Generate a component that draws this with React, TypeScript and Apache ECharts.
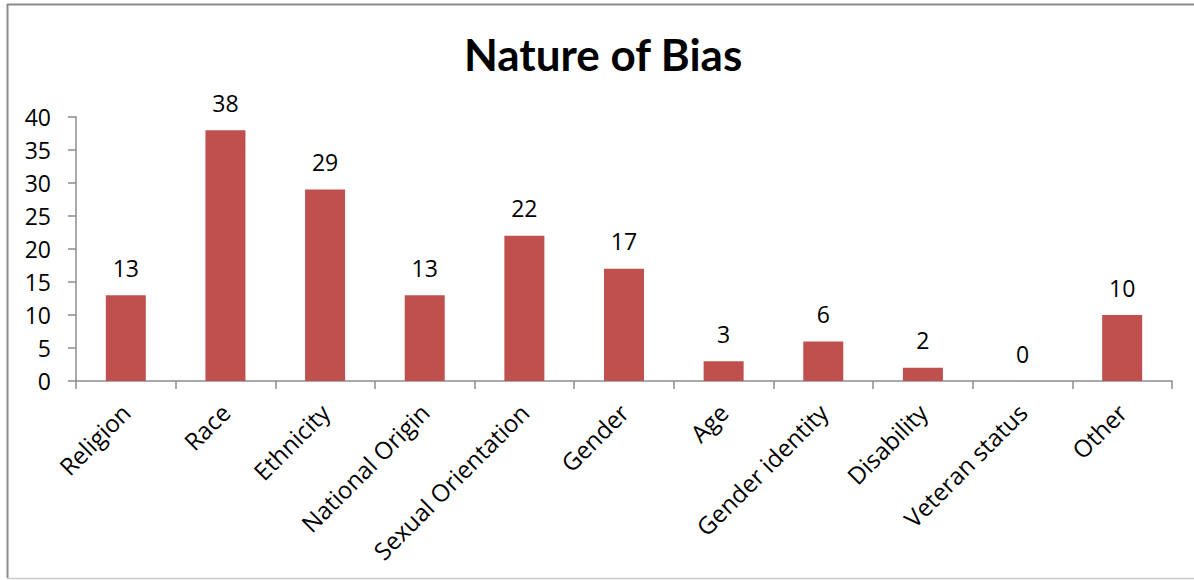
import React, { useEffect, useRef } from "react";
import * as echarts from "echarts";

const categories = [
  "Religion",
  "Race",
  "Ethnicity",
  "National Origin",
  "Sexual Orientation",
  "Gender",
  "Age",
  "Gender identity",
  "Disability",
  "Veteran status",
  "Other",
];
const values = [13, 38, 29, 13, 22, 17, 3, 6, 2, 0, 10];
const yTicks = { min: 0, max: 40, interval: 5 };
const titleText = "Nature of Bias";

export default function App() {
  const ref = useRef<HTMLDivElement>(null);
  useEffect(() => {
    if (!ref.current) return;
    const chart = echarts.init(ref.current, undefined, { renderer: "svg" });
    const font = "Open Sans";
    chart.setOption({
      animation: false,
      backgroundColor: "#ffffff",
      title: {
        text: titleText,
        left: 459,
        top: 27,
        textStyle: { fontFamily: "Lato", fontSize: 44, fontWeight: "bold", color: "#000" },
      },
      grid: { left: 76, top: 117, width: 1096, height: 264, containLabel: false },
      xAxis: {
        type: "category",
        data: categories,
        axisLine: { lineStyle: { color: "#8c8c8c", width: 1.5 } },
        axisTick: { show: true, length: 8, alignWithLabel: false, lineStyle: { color: "#8c8c8c", width: 1.5 } },
        axisLabel: {
          rotate: 45,
          interval: 0,
          margin: 27,
          fontFamily: font,
          fontSize: 24,
          color: "#000",
          padding: [0, 0, 0, 0],
        },
      },
      yAxis: {
        type: "value",
        min: yTicks.min,
        max: yTicks.max,
        interval: yTicks.interval,
        splitLine: { show: false },
        axisLine: { show: true, lineStyle: { color: "#8c8c8c", width: 1.5 } },
        axisTick: { show: true, length: 8, lineStyle: { color: "#8c8c8c", width: 1.5 } },
        axisLabel: { fontFamily: font, fontSize: 23, color: "#000", margin: 25 },
      },
      series: [
        {
          type: "bar",
          data: values,
          barWidth: 40,
          itemStyle: { color: "#C0504D" },
          label: {
            show: true,
            position: "top",
            distance: 16,
            fontFamily: font,
            fontSize: 23,
            color: "#000",
          },
        },
      ],
      graphic: [
        { type: "line", shape: { x1: 7.5, y1: 4, x2: 7.5, y2: 578 }, style: { stroke: "#8c8c8c", lineWidth: 2 } },
        { type: "line", shape: { x1: 7, y1: 4.5, x2: 1194, y2: 4.5 }, style: { stroke: "#8c8c8c", lineWidth: 2 } },
        { type: "line", shape: { x1: 7, y1: 578.5, x2: 1194, y2: 578.5 }, style: { stroke: "#cccccc", lineWidth: 1.5 } },
      ],
    });
    return () => chart.dispose();
  }, []);
  return (
    <div
      ref={ref}
      style={{ position: "absolute", left: 0, top: 0, width: 1194, height: 580 }}
    />
  );
}
